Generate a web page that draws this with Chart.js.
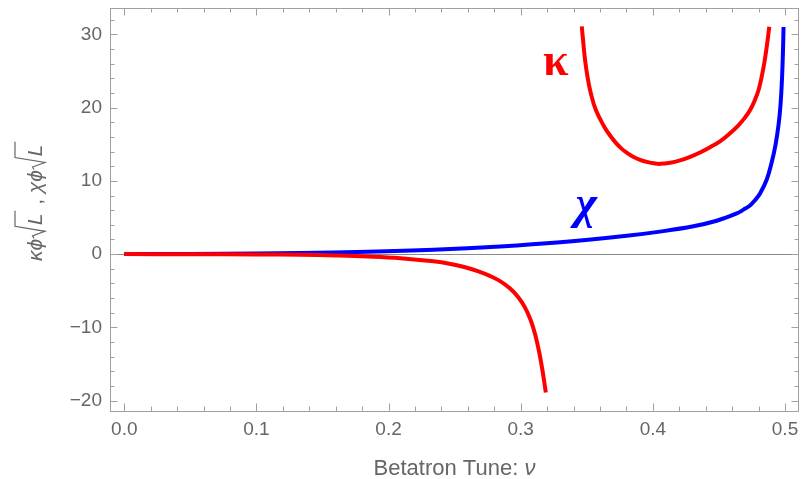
<!DOCTYPE html>
<html><head><meta charset="utf-8">
<script src="https://cdn.jsdelivr.net/npm/chart.js@4/dist/chart.umd.min.js"></script>
<style>html,body{margin:0;padding:0;background:#fff}</style>
</head><body>
<canvas id="c" width="805" height="479"></canvas>
<script>
// ---- data ----
const kappaLowerTune  = [0, 0.05, 0.10, 0.133, 0.16, 0.184, 0.209, 0.234, 0.247, 0.258, 0.268, 0.277, 0.285, 0.292, 0.298, 0.303, 0.3075, 0.311, 0.314, 0.3165, 0.319];
const kappaLowerValue = [0, -0.01, -0.04, -0.1, -0.19, -0.32, -0.55, -0.98, -1.35, -1.8, -2.35, -3.0, -3.75, -4.7, -5.85, -7.2, -9.0, -11.0, -13.4, -15.9, -18.9];
const kappaUpperTune  = [0.3462, 0.3474, 0.3487, 0.3505, 0.3530, 0.3568, 0.3631, 0.3672, 0.3722, 0.3763, 0.3807, 0.3854, 0.3903, 0.3964, 0.4009, 0.4054,
                         0.4130, 0.4206, 0.4282, 0.4357, 0.4433, 0.4508, 0.4584, 0.4644, 0.4697, 0.4735, 0.4773, 0.4800, 0.4822, 0.4845, 0.4864, 0.4881];
const kappaUpperValue = [31.1, 28.8, 26.5, 24.25, 22.0, 19.7, 17.42, 16.3, 15.15, 14.4, 13.78, 13.26, 12.87, 12.55, 12.39, 12.32,
                         12.47, 12.80, 13.28, 13.88, 14.60, 15.40, 16.50, 17.51, 18.63, 19.63, 21.07, 22.4, 24.07, 26.26, 28.58, 31.04];
const chiTune  = [0, 0.05, 0.10, 0.133, 0.184, 0.234, 0.2844, 0.3298, 0.3802, 0.4054, 0.4307, 0.4483, 0.4635, 0.4686, 0.4735, 0.4773, 0.4811, 0.4862, 0.4899, 0.4928, 0.4951, 0.4966, 0.4977, 0.4985, 0.4989];
const chiValue = [0, 0.02, 0.07, 0.15, 0.32, 0.6, 1.05, 1.62, 2.5, 3.07, 3.8, 4.55, 5.55, 6.07, 6.64, 7.35, 8.28, 10.19, 12.51, 14.89, 17.62, 20.35, 23.8, 27.9, 31.0];
const xTickValues = [0, 0.1, 0.2, 0.3, 0.4, 0.5];
const yTickValues = [-20, -10, 0, 10, 20, 30];
const xMinorStep = 0.02;
const yMinorStep = 2;
const xAxisTitle = 'Betatron Tune: ';
const xAxisVar = 'ν';
const kappaLabel = 'κ';
const chiLabel = 'χ';
const kappaLabelAt = {x: 0.3265, y: 24.4};
const chiLabelAt = {x: 0.3495, y: 4.95};

const kappaData = kappaLowerTune.map((t, i) => ({x: t, y: kappaLowerValue[i]}))
  .concat([{x: 0.333, y: null}])
  .concat(kappaUpperTune.map((t, i) => ({x: t, y: kappaUpperValue[i]})));
const chiData = chiTune.map((t, i) => ({x: t, y: chiValue[i]}));

const FRAME = '#a0a0a0';
const TEXT = '#666666';

const decorPlugin = {
  id: 'decor',
  beforeDatasetsDraw(chart) {
    const {ctx, chartArea: a, scales: {y}} = chart;
    ctx.save();
    ctx.strokeStyle = '#8a8a8a';
    ctx.lineWidth = 1;
    const y0 = Math.round(y.getPixelForValue(0)) + 0.5;
    ctx.beginPath(); ctx.moveTo(a.left, y0); ctx.lineTo(a.right, y0); ctx.stroke();
    ctx.restore();
  },
  afterDatasetsDraw(chart) {
    const {ctx, chartArea: a, scales: {x, y}} = chart;
    ctx.save();
    ctx.strokeStyle = FRAME;
    ctx.lineWidth = 1;
    ctx.strokeRect(Math.round(a.left) + 0.5, Math.round(a.top) + 0.5, Math.round(a.right - a.left) - 1, Math.round(a.bottom - a.top));
    const isMajor = (v, arr) => arr.some(m => Math.abs(m - v) < 1e-6);
    ctx.beginPath();
    for (let v = 0; v <= x.max + 1e-9; v += xMinorStep) {
      const vv = Math.round(v / xMinorStep) * xMinorStep;
      if (vv < x.min) continue;
      const len = isMajor(vv, xTickValues) ? 7.5 : 4.5;
      const px = Math.round(x.getPixelForValue(vv)) + 0.5;
      ctx.moveTo(px, a.bottom); ctx.lineTo(px, a.bottom - len);
      ctx.moveTo(px, a.top); ctx.lineTo(px, a.top + len);
    }
    for (let v = Math.ceil(y.min / yMinorStep) * yMinorStep; v <= y.max; v += yMinorStep) {
      const len = isMajor(v, yTickValues) ? 7.5 : 4.5;
      const py = Math.round(y.getPixelForValue(v)) + 0.5;
      ctx.moveTo(a.left, py); ctx.lineTo(a.left + len, py);
      ctx.moveTo(a.right, py); ctx.lineTo(a.right - len, py);
    }
    ctx.stroke();
    ctx.restore();
  },
  afterDraw(chart) {
    const {ctx, chartArea: a, scales: {x, y}} = chart;
    ctx.save();
    // annotations
    ctx.textAlign = 'center';
    ctx.textBaseline = 'alphabetic';
    ctx.fillStyle = '#ff0000';
    ctx.font = 'bold 46px "Liberation Serif"';
    ctx.fillText(kappaLabel, x.getPixelForValue(kappaLabelAt.x), y.getPixelForValue(kappaLabelAt.y));
    ctx.fillStyle = '#0000ff';
    ctx.font = 'bold italic 46px "Liberation Serif"';
    ctx.fillText(chiLabel, x.getPixelForValue(chiLabelAt.x), y.getPixelForValue(chiLabelAt.y));

    // x axis title
    ctx.fillStyle = TEXT;
    ctx.textAlign = 'left';
    ctx.font = '22px "Liberation Sans"';
    const w1 = ctx.measureText(xAxisTitle).width;
    ctx.font = 'italic 22px "Liberation Sans"';
    const w2 = ctx.measureText(xAxisVar).width;
    const cx = (a.left + a.right) / 2;
    const sx = cx - (w1 + w2) / 2;
    ctx.font = '22px "Liberation Sans"';
    ctx.fillText(xAxisTitle, sx, 475);
    ctx.font = 'italic 22px "Liberation Sans"';
    ctx.fillText(xAxisVar, sx + w1, 475);

    // y axis title (rotated)  κϕ√L , χϕ√L
    ctx.translate(42, 261);
    ctx.rotate(-Math.PI / 2);
    ctx.strokeStyle = TEXT;
    ctx.lineWidth = 1.2;
    let u = 0;
    const part = (txt, font) => { ctx.font = font; ctx.fillText(txt, u, 0); u += ctx.measureText(txt).width; };
    const radical = (inner) => {
      ctx.font = 'italic 21px "Liberation Sans"';
      const wl = ctx.measureText(inner).width;
      const u0 = u + 0.5;
      ctx.beginPath();
      ctx.moveTo(u0, -8);
      ctx.lineTo(u0 + 2.5, -9.5);
      ctx.lineTo(u0 + 7, 3);
      ctx.lineTo(u0 + 12, -27);
      ctx.lineTo(u0 + 14 + wl + 2, -27);
      ctx.stroke();
      ctx.fillText(inner, u0 + 13, 0);
      u = u0 + 14 + wl + 2;
    };
    part('κϕ', 'italic 21px "Liberation Sans"');
    radical('L');
    part(' , ', '21px "Liberation Sans"');
    part('χϕ', 'italic 21px "Liberation Sans"');
    radical('L');
    ctx.restore();
  }
};

new Chart(document.getElementById('c'), {
  type: 'line',
  data: {
    datasets: [
      {label: 'kappa', data: kappaData, borderColor: '#ff0000', borderWidth: 4, pointRadius: 0,
       tension: 0.4, spanGaps: false, order: 0, fill: false},
      {label: 'chi', data: chiData, borderColor: '#0000ff', borderWidth: 4, pointRadius: 0,
       tension: 0.4, order: 1, fill: false}
    ]
  },
  options: {
    responsive: false,
    animation: false,
    devicePixelRatio: 1,
    layout: {padding: {top: 8, right: 6, left: 0, bottom: 0}},
    plugins: {legend: {display: false}, tooltip: {enabled: false}},
    scales: {
      x: {
        type: 'linear', min: -0.0108, max: 0.5106,
        grid: {display: false, drawTicks: false}, border: {display: false},
        afterBuildTicks: s => { s.ticks = xTickValues.map(v => ({value: v})); },
        afterFit: s => { s.height = 68; s.paddingLeft = 0; s.paddingRight = 0; },
        ticks: {callback: v => v.toFixed(1), font: {family: 'Liberation Sans', size: 19}, color: TEXT,
                padding: 7, maxRotation: 0, autoSkip: false}
      },
      y: {
        type: 'linear', min: -21.42, max: 33.6,
        grid: {display: false, drawTicks: false}, border: {display: false},
        afterBuildTicks: s => { s.ticks = yTickValues.map(v => ({value: v})); },
        afterFit: s => { s.width = 110; s.paddingTop = 0; s.paddingBottom = 0; },
        ticks: {callback: v => (v < 0 ? '\u2212' + Math.abs(v) : String(v)), font: {family: 'Liberation Sans', size: 19},
                color: TEXT, padding: 8, autoSkip: false}
      }
    }
  },
  plugins: [decorPlugin]
});
</script>
</body></html>
